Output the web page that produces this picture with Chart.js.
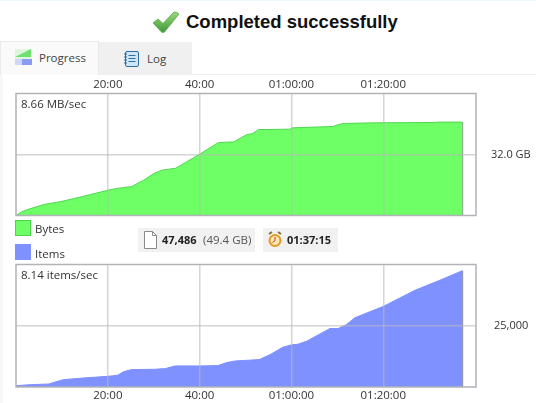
<!DOCTYPE html>
<html lang="en">
<head>
<meta charset="UTF-8" />
<title>Completed successfully</title>
<script src="https://cdn.jsdelivr.net/npm/chart.js"></script>
<style>
  * { box-sizing: border-box; }
  html, body { margin: 0; padding: 0; }
  body {
    position: relative; width: 536px; height: 403px; overflow: hidden;
    background: #fff; color: #333;
    font-family: "Open Sans", "Noto Sans", sans-serif; font-size: 11.5px;
  }
  .abs { position: absolute; white-space: nowrap; }
  #topline { left: 0; top: 0; width: 536px; height: 1px; background: #eefafe; }
  #leftline { left: 0; top: 74px; width: 3px; height: 329px; background: #f8f8f8; }
  #title { left: 186px; top: 11px; font: bold 18.5px "Liberation Sans", Arial, sans-serif; color: #111; }
  #tabline { left: 0; top: 74px; width: 536px; height: 1px; background: #efefef; }
  .tab { top: 42px; height: 32px; }
  #tab1 { left: 0; width: 99px; top: 41px; height: 34px; background: #fafafa; border: 1px solid #eaeaea; border-bottom: none; z-index: 2; }
  #tab2 { left: 99px; width: 93px; background: #f0f0f0; }
  .tabtxt { font-size: 11.5px; z-index: 3; color: #444; }
  canvas { position: absolute; left: 0; display: block; }
  #chartTop { top: 75px; }
  #chartBottom { top: 255px; }
  .rate { left: 21px; font-size: 11.5px; color: #333; z-index: 3; }
  .swatch { left: 15px; width: 16px; height: 16px; }
  .lbl { left: 35px; font-size: 11.5px; color: #333; }
  .pill { top: 228px; height: 24px; background: #f1f1f1; }
  .pilltxt { top: 232px; font-size: 11px; color: #222; }
</style>
</head>
<body>
  <div class="abs" id="topline"></div>
  <div class="abs" id="leftline"></div>

  <svg class="abs" style="left:152px;top:11px" width="28" height="23" viewBox="0 0 28 23">
    <defs>
      <linearGradient id="tick" x1="0" y1="0" x2="0" y2="1">
        <stop offset="0" stop-color="#9ad97a"/>
        <stop offset="1" stop-color="#3f9a3a"/>
      </linearGradient>
    </defs>
    <path d="M1 12 L6 8 L11 12.5 L22 1 Q25 1 27 3 L12.5 21 Q11 22 9.5 21 Z" fill="url(#tick)" stroke="#55a84a" stroke-width="0.8"/>
  </svg>
  <div class="abs" id="title">Completed successfully</div>

  <div class="abs" id="tabline"></div>
  <div class="abs tab" id="tab1"></div>
  <div class="abs tab" id="tab2"></div>
  <svg class="abs" style="left:15px;top:49px;z-index:3" width="17" height="16" viewBox="0 0 17 16">
    <rect width="17" height="16" fill="#dcf5dc"/>
    <path d="M0 8 L16 0 L16 8 Z" fill="#6fe06f"/>
    <rect y="10" width="17" height="6" fill="#8c9cf2"/>
    <rect y="10" width="7" height="6" fill="#cfd6fa"/>
  </svg>
  <div class="abs tabtxt" style="left:39px;top:50px">Progress</div>
  <svg class="abs" style="left:124px;top:51px;z-index:3" width="15" height="16" viewBox="0 0 15 16">
    <rect x="1.5" y="0.5" width="13" height="15" rx="1.5" fill="#cfe6f7" stroke="#2f6f9f"/>
    <path d="M4.5 4.5h7M4.5 7.5h7M4.5 10.5h7" stroke="#2f6f9f"/>
    <path d="M0 3h3M0 6h3M0 9h3M0 12h3" stroke="#2f6f9f"/>
  </svg>
  <div class="abs tabtxt" style="left:147px;top:51px">Log</div>

  <canvas id="chartTop" width="536" height="145"></canvas>
  <canvas id="chartBottom" width="536" height="150"></canvas>
  <div class="abs rate" style="top:96px">8.66 MB/sec</div>
  <div class="abs rate" style="top:267px">8.14 items/sec</div>

  <div class="abs swatch" style="top:220px;background:#6eff66;border:1px solid #4fd04f"></div>
  <div class="abs lbl" style="top:221px">Bytes</div>
  <div class="abs swatch" style="top:244px;background:#7f91ff"></div>
  <div class="abs lbl" style="top:246px">Items</div>

  <div class="abs pill" style="left:138px;width:117px"></div>
  <svg class="abs" style="left:144px;top:231px" width="13" height="18" viewBox="0 0 13 18">
    <path d="M0.5 0.5 H8.5 L12.5 4.5 V17.5 H0.5 Z" fill="#fff" stroke="#8a8a8a"/>
    <path d="M8.5 0.5 V4.5 H12.5" fill="none" stroke="#8a8a8a"/>
  </svg>
  <div class="abs pilltxt" style="left:162px"><b>47,486</b></div>
  <div class="abs pilltxt" style="left:203px;font-size:11.5px;color:#555">(49.4 GB)</div>

  <div class="abs pill" style="left:263px;width:75px"></div>
  <svg class="abs" style="left:268px;top:231px" width="14" height="17" viewBox="0 0 14 17">
    <circle cx="7" cy="9.5" r="5.5" fill="#fbe7b0" stroke="#e29a2a" stroke-width="2"/>
    <path d="M7 6V9.5L4.5 11.5" stroke="#c0392b" fill="none"/>
    <path d="M1 3L4 1M13 3L10 1" stroke="#8a6a3a" stroke-width="2"/>
  </svg>
  <div class="abs pilltxt" style="left:287px"><b>01:37:15</b></div>

<script>
  // x positions in minutes of elapsed time
  const bytesMinutes = [0, 1.2, 3.0, 6.3, 9.6, 13.9, 20.1, 22, 25.2, 27.8, 30, 31.8, 34.8, 37.2, 40.1, 44.1, 47.4, 50.3, 51.4, 52.9, 54.5, 59.6, 60.3, 69.1, 70.2, 71.6, 77.8, 91.2, 92, 97.25];
  const bytesValues = [0, 1.9, 3.5, 5.9, 7.2, 9.6, 13.3, 14.2, 15.2, 18.5, 22.0, 23.8, 24.8, 28.2, 32.3, 38.3, 38.6, 42.5, 42.8, 45.1, 45.1, 45.3, 46.0, 46.7, 47.7, 48.3, 48.6, 48.8, 49.0, 49.0];

  const itemsMinutes = [0, 3.1, 7.1, 10.3, 14.7, 20.1, 22.1, 23.5, 25.2, 30.2, 32.5, 34.7, 40, 44, 45.9, 47.8, 50.6, 53, 55.4, 58.1, 60, 61.4, 63.3, 68.4, 70.2, 72, 73.8, 80, 86.9, 92.3, 97.25];
  const itemsValues = [550, 950, 1230, 3000, 3690, 4370, 4780, 6280, 7100, 7240, 7510, 8600, 8600, 8740, 9970, 10650, 10930, 11200, 13250, 16230, 17200, 17460, 18690, 23890, 23890, 25530, 28270, 32900, 39460, 43560, 47486];

  const timeTicks = [20, 40, 60, 80];
  const timeLabels = ['20:00', '40:00', '01:00:00', '01:20:00'];
  const xMax = 100.2;

  const fontName = '"Open Sans", "Noto Sans", sans-serif';
  const gridColor = 'rgba(185,185,185,0.6)';

  // box round the plot, the library only draws the side next to an axis
  const frame = {
    id: 'frame',
    afterDraw(chart) {
      const a = chart.chartArea, c = chart.ctx;
      c.save();
      c.strokeStyle = '#b2b2b8';
      c.lineWidth = 1.5;
      c.strokeRect(a.left, a.top, a.right - a.left, a.bottom - a.top);
      c.restore();
    }
  };

  function makeChart(id, xs, ys, fill, line, yMax, yTick, yLabel, yPad, xPos, padTop, padBottom) {
    const points = xs.map((x, i) => ({ x: x, y: ys[i] }));
    const last = points[points.length - 1];
    return new Chart(document.getElementById(id), {
      type: 'line',
      data: {
        datasets: [
          { data: points, backgroundColor: fill, borderColor: line, borderWidth: 1, fill: 'origin', pointRadius: 0, tension: 0 },
          // grey edge where the data stops
          { data: [{ x: last.x, y: 0 }, { x: last.x, y: last.y }], borderColor: '#9a9a9a', borderWidth: 1.5, pointRadius: 0, fill: false }
        ]
      },
      options: {
        responsive: false,
        animation: false,
        layout: { padding: { left: 16, top: padTop, bottom: padBottom, right: 0 } },
        plugins: { legend: { display: false }, tooltip: { enabled: false }, title: { display: false } },
        scales: {
          x: {
            type: 'linear', position: xPos, min: 0, max: xMax,
            afterBuildTicks: s => { s.ticks = timeTicks.map(v => ({ value: v })); },
            afterFit: s => { s.height = 18; },
            ticks: {
              color: '#333', padding: 2, maxRotation: 0, autoSkip: false,
              font: { family: fontName, size: 11.5 },
              callback: v => timeLabels[timeTicks.indexOf(v)]
            },
            grid: { color: gridColor, lineWidth: 1.5, drawTicks: false, z: 1 },
            border: { display: false }
          },
          y: {
            position: 'right', min: 0, max: yMax,
            afterBuildTicks: s => { s.ticks = [{ value: yTick }]; },
            // tick padding would otherwise be added above and below the plot
            afterFit: s => { s.width = 60; s.paddingTop = 0; s.paddingBottom = 0; },
            ticks: {
              color: '#333', padding: yPad, font: { family: fontName, size: 11 },
              callback: () => yLabel
            },
            grid: { color: gridColor, lineWidth: 1.5, drawTicks: false, z: 1 },
            border: { display: false }
          }
        }
      },
      plugins: [frame]
    });
  }

  makeChart('chartTop', bytesMinutes, bytesValues, '#6eff66', '#52d552', 64, 32, '32.0 GB', 15, 'top', 0.5, 4.5);
  makeChart('chartBottom', itemsMinutes, itemsValues, '#7f91ff', '#7f91ff', 50000, 25000, '25,000', 18, 'bottom', 9.5, 0);
</script>
</body>
</html>
